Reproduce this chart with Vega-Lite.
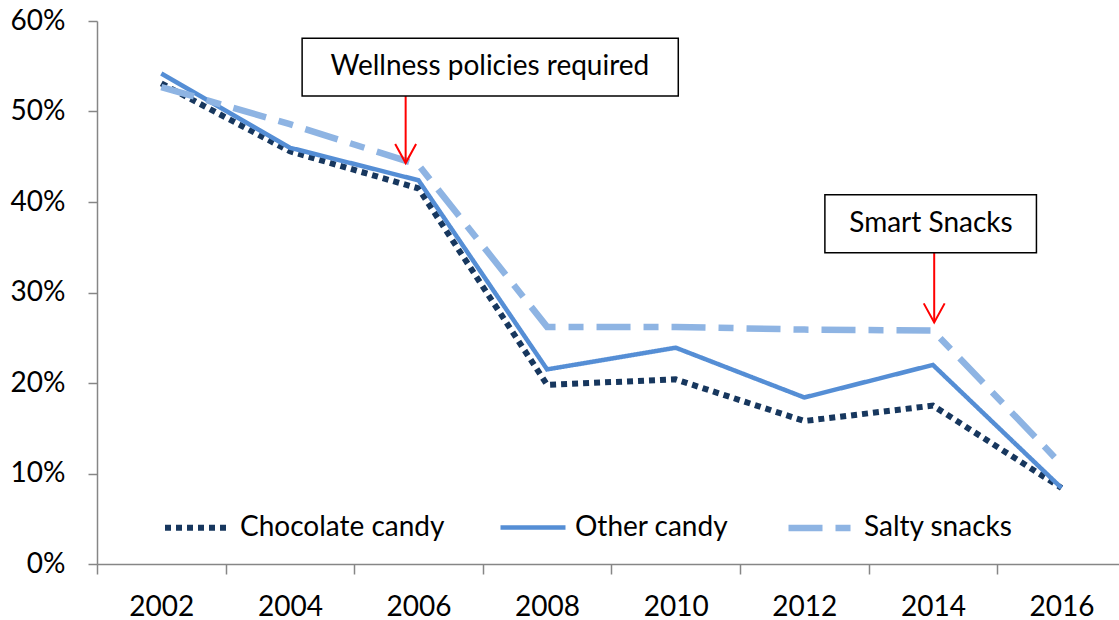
{
  "$schema": "https://vega.github.io/schema/vega-lite/v6.json",
  "width": 1022,
  "height": 543,
  "autosize": {"type": "none"},
  "padding": {"left": 97, "top": 21, "right": 0, "bottom": 56},
  "background": "white",
  "config": {
    "font": "Lato",
    "view": {"stroke": null},
    "axis": {"grid": false, "domainColor": "#868686", "domainWidth": 1.5, "tickColor": "#868686", "tickWidth": 1.5,
      "labelFont": "Lato", "labelFontSize": 28, "labelColor": "black", "titleFontSize": 0}
  },
  "datasets": {
    "series": [
      {"year": 2002, "item": "Chocolate candy", "pct": 53.1},
      {"year": 2004, "item": "Chocolate candy", "pct": 45.6},
      {"year": 2006, "item": "Chocolate candy", "pct": 41.5},
      {"year": 2008, "item": "Chocolate candy", "pct": 19.8},
      {"year": 2010, "item": "Chocolate candy", "pct": 20.4},
      {"year": 2012, "item": "Chocolate candy", "pct": 15.8},
      {"year": 2014, "item": "Chocolate candy", "pct": 17.5},
      {"year": 2016, "item": "Chocolate candy", "pct": 8.4},
      {"year": 2002, "item": "Other candy", "pct": 54.2},
      {"year": 2004, "item": "Other candy", "pct": 46.0},
      {"year": 2006, "item": "Other candy", "pct": 42.4},
      {"year": 2008, "item": "Other candy", "pct": 21.5},
      {"year": 2010, "item": "Other candy", "pct": 23.9},
      {"year": 2012, "item": "Other candy", "pct": 18.4},
      {"year": 2014, "item": "Other candy", "pct": 22.0},
      {"year": 2016, "item": "Other candy", "pct": 8.4},
      {"year": 2002, "item": "Salty snacks", "pct": 52.7},
      {"year": 2004, "item": "Salty snacks", "pct": 48.6},
      {"year": 2006, "item": "Salty snacks", "pct": 44.1},
      {"year": 2008, "item": "Salty snacks", "pct": 26.2},
      {"year": 2010, "item": "Salty snacks", "pct": 26.2},
      {"year": 2012, "item": "Salty snacks", "pct": 25.9},
      {"year": 2014, "item": "Salty snacks", "pct": 25.8},
      {"year": 2016, "item": "Salty snacks", "pct": 11.0}
    ],
    "notes": [
      {"label": "Wellness policies required", "left": 2004.19, "right": 2010.04, "top": 58.1, "bottom": 51.7, "mid": 2007.11, "textY": 54.9, "arrowX": 2005.8, "tip": 44.3},
      {"label": "Smart Snacks", "left": 2012.32, "right": 2015.61, "top": 40.8, "bottom": 34.4, "mid": 2013.97, "textY": 37.6, "arrowX": 2014.02, "tip": 26.7}
    ]
  },
  "layer": [
    {
      "data": {"name": "series"},
      "mark": {"type": "line", "strokeCap": "butt", "strokeJoin": "miter"},
      "encoding": {
        "x": {
          "field": "year", "type": "quantitative",
          "scale": {"domain": [2001, 2016.894], "nice": false, "zero": false},
          "axis": {
            "title": null,
            "values": [2001, 2002, 2003, 2004, 2005, 2006, 2007, 2008, 2009, 2010, 2011, 2012, 2013, 2014, 2015, 2016],
            "labelExpr": "datum.value % 2 == 0 ? '' + datum.value : ''",
            "labelOverlap": false, "labelFlush": false, "labelBound": false,
            "tickSize": 10, "labelPadding": 19,
            "tickOpacity": {"condition": {"test": "datum.value % 2 == 1", "value": 1}, "value": 0}
          }
        },
        "y": {
          "field": "pct", "type": "quantitative",
          "scale": {"domain": [0, 60], "nice": false},
          "axis": {
            "title": null,
            "values": [0, 10, 20, 30, 40, 50, 60],
            "labelExpr": "datum.value + '%'",
            "tickSize": 9, "labelPadding": 23
          }
        },
        "color": {
          "field": "item", "type": "nominal",
          "scale": {"domain": ["Chocolate candy", "Other candy", "Salty snacks"], "range": ["#17375E", "#558ED5", "#8EB4E3"]},
          "legend": {
            "title": null, "orient": "none", "direction": "horizontal",
            "legendX": 65, "legendY": 471,
            "symbolType": "stroke", "symbolSize": 4225,
            "labelFontSize": 28, "labelColor": "black", "labelOffset": 7,
            "columnPadding": 46, "labelLimit": 400
          }
        },
        "strokeDash": {
          "field": "item", "type": "nominal",
          "scale": {"domain": ["Chocolate candy", "Other candy", "Salty snacks"], "range": [[6, 5], [1, 0], [34, 13, 15, 13]]},
          "legend": {
            "title": null, "orient": "none", "direction": "horizontal",
            "legendX": 65, "legendY": 471,
            "symbolType": "stroke", "symbolSize": 4225,
            "labelFontSize": 28, "labelColor": "black", "labelOffset": 7,
            "columnPadding": 46, "labelLimit": 400
          }
        },
        "strokeWidth": {
          "field": "item", "type": "nominal",
          "scale": {"type": "ordinal", "domain": ["Chocolate candy", "Other candy", "Salty snacks"], "range": [6, 4.5, 6.5]},
          "legend": {
            "title": null, "orient": "none", "direction": "horizontal",
            "legendX": 65, "legendY": 471,
            "symbolType": "stroke", "symbolSize": 4225,
            "labelFontSize": 28, "labelColor": "black", "labelOffset": 7,
            "columnPadding": 46, "labelLimit": 400
          }
        }
      }
    },
    {
      "data": {"name": "notes"},
      "mark": {"type": "rule", "color": "red", "strokeWidth": 2},
      "encoding": {
        "x": {"field": "arrowX", "type": "quantitative"},
        "y": {"field": "bottom", "type": "quantitative"},
        "y2": {"field": "tip"}
      }
    },
    {
      "data": {"name": "notes"},
      "mark": {"type": "point", "shape": "M-0.55,-1L0,0L0.55,-1", "filled": false, "color": "red", "strokeWidth": 2, "size": 1444, "opacity": 1},
      "encoding": {
        "x": {"field": "arrowX", "type": "quantitative"},
        "y": {"field": "tip", "type": "quantitative"}
      }
    },
    {
      "data": {"name": "notes"},
      "mark": {"type": "rect", "fill": "white", "stroke": "black", "strokeWidth": 1.5},
      "encoding": {
        "x": {"field": "left", "type": "quantitative"},
        "x2": {"field": "right"},
        "y": {"field": "top", "type": "quantitative"},
        "y2": {"field": "bottom"}
      }
    },
    {
      "data": {"name": "notes"},
      "mark": {"type": "text", "font": "Lato", "fontSize": 28, "color": "black", "align": "center", "baseline": "middle"},
      "encoding": {
        "x": {"field": "mid", "type": "quantitative"},
        "y": {"field": "textY", "type": "quantitative"},
        "text": {"field": "label"}
      }
    }
  ]
}
